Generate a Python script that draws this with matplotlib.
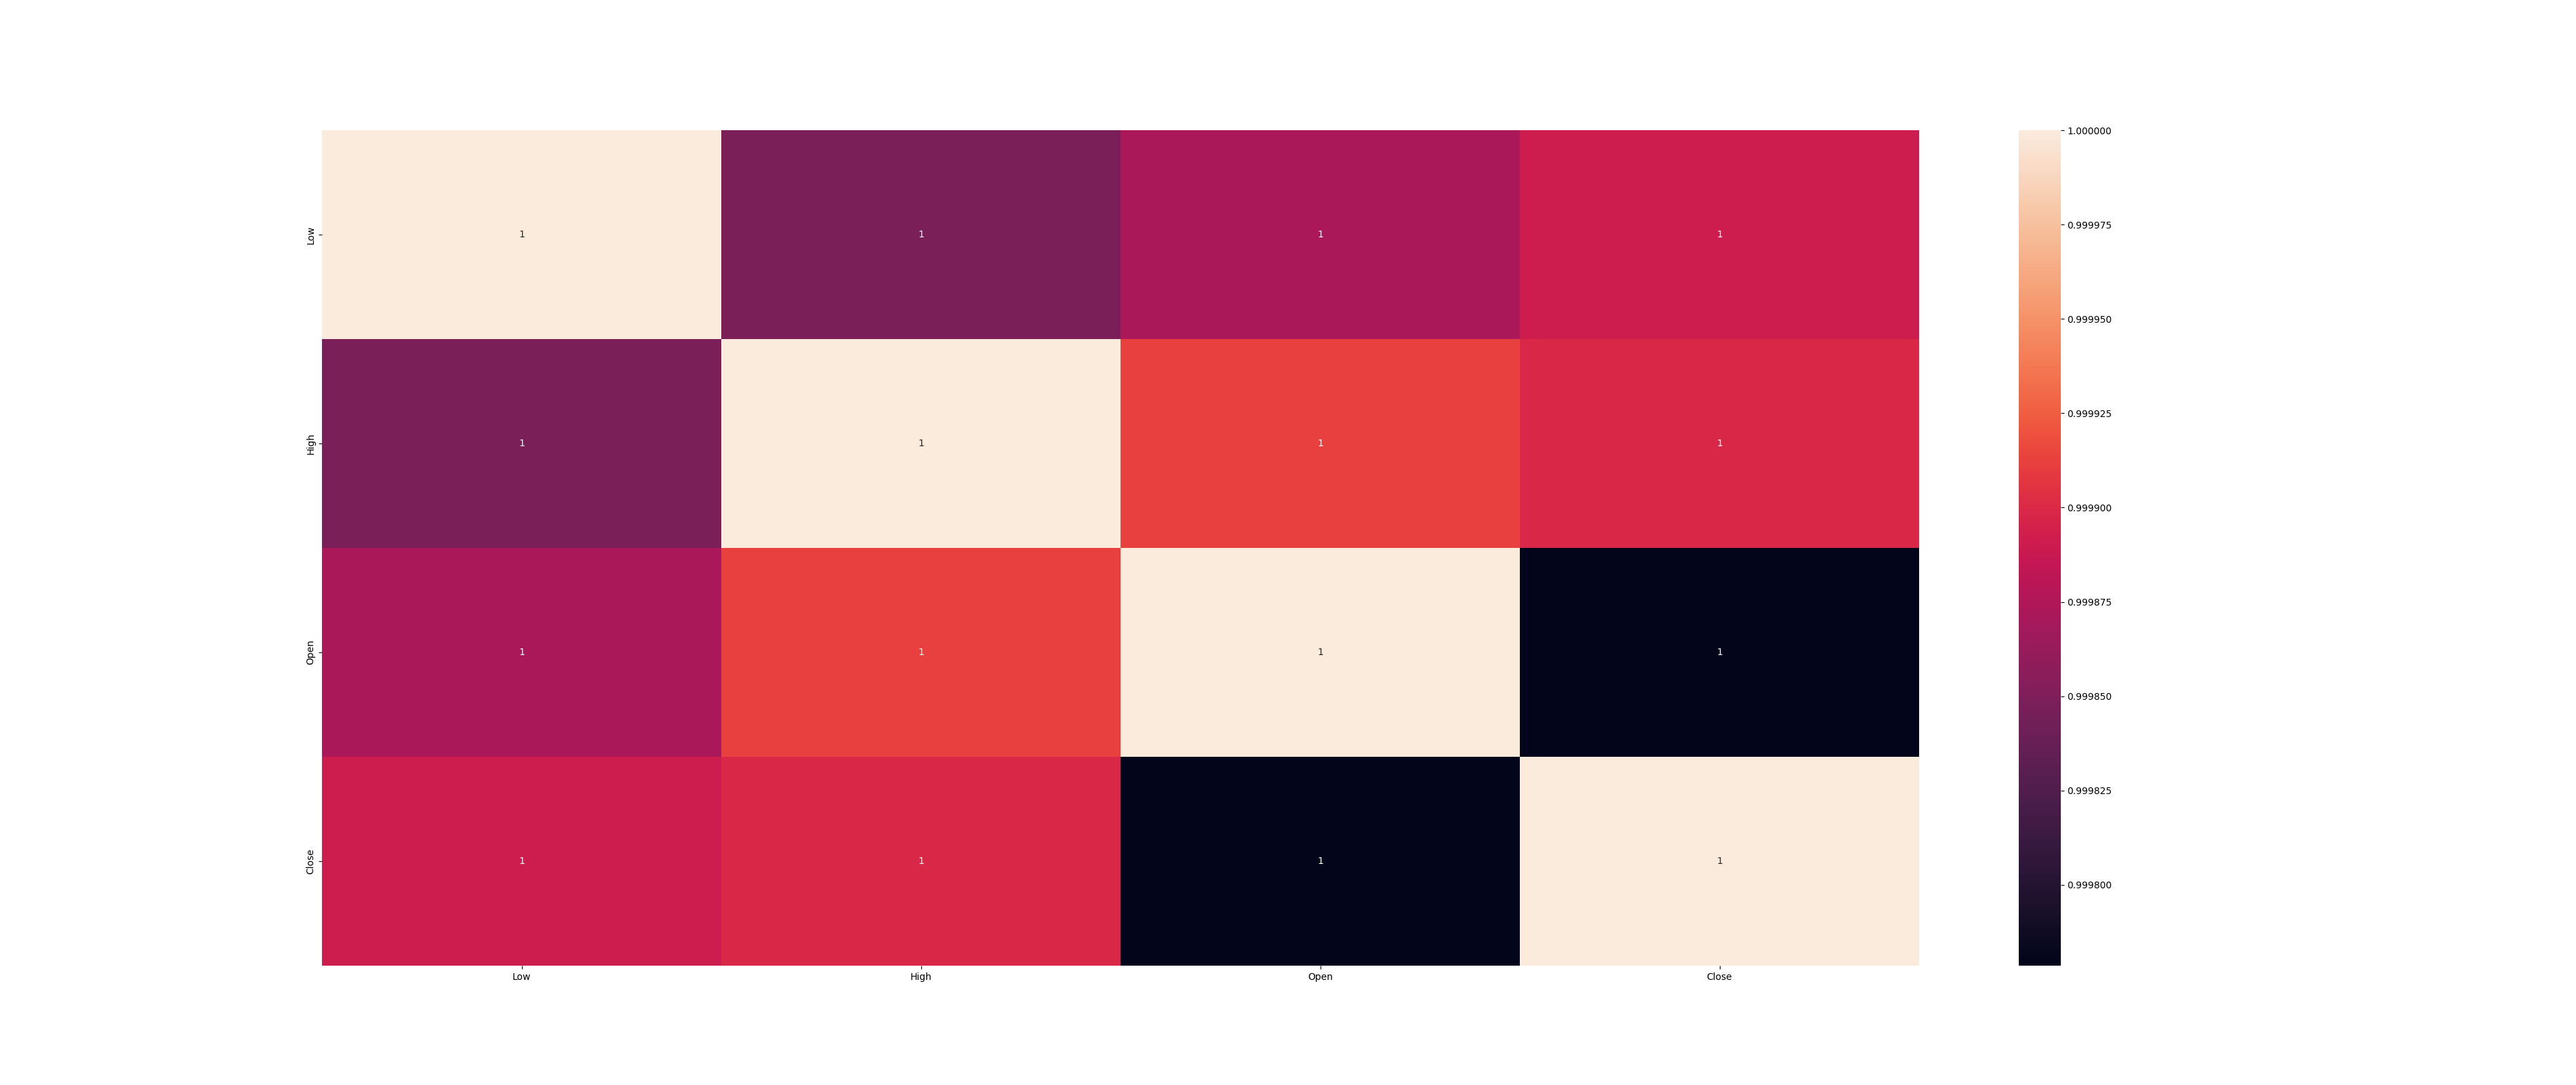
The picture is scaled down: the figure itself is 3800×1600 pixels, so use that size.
import matplotlib
matplotlib.use('agg')
import matplotlib.pyplot as plt
import seaborn as sns
import pandas as pd

cols = ["Low", "High", "Open", "Close"]
low_row = [1.0, 0.999848, 0.999872, 0.999891]
high_row = [0.999848, 1.0, 0.999912, 0.999899]
open_row = [0.999872, 0.999912, 1.0, 0.9997786]
close_row = [0.999891, 0.999899, 0.9997786, 1.0]

corr = pd.DataFrame([low_row, high_row, open_row, close_row], index=cols, columns=cols)

fig, ax = plt.subplots(figsize=(38, 16))
sns.heatmap(corr, annot=True, ax=ax)

plt.savefig("out.png", dpi=100)
